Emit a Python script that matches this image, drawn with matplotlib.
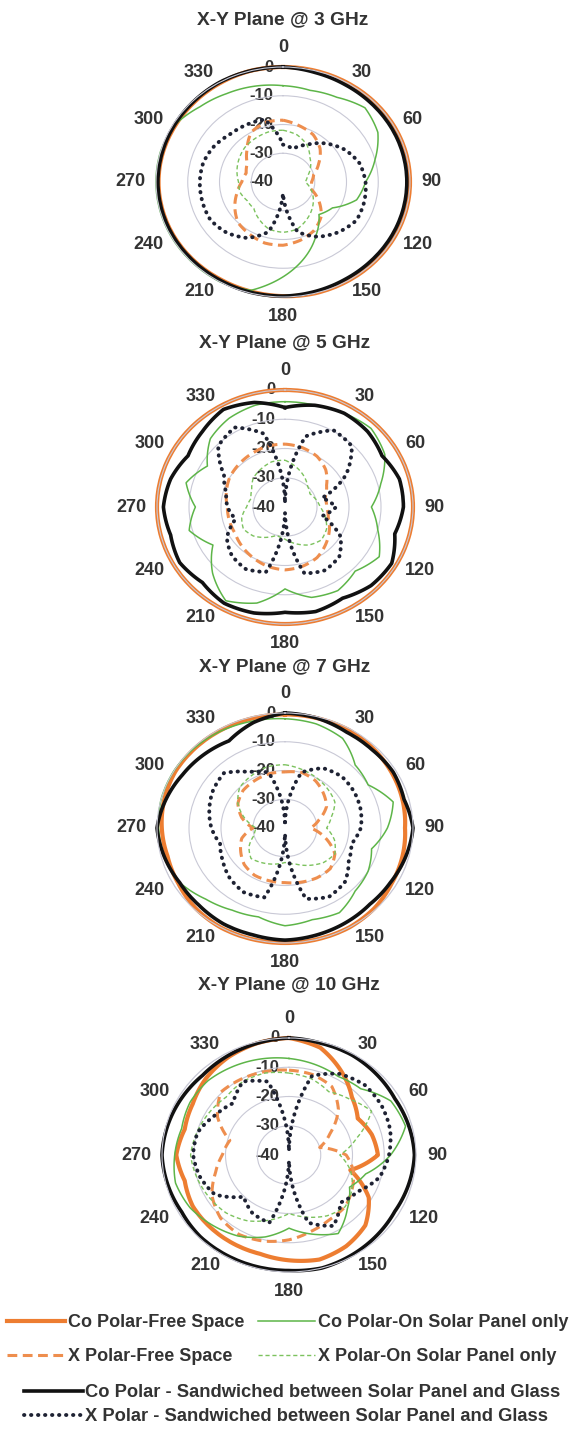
import numpy as np
import matplotlib
matplotlib.use("Agg")
import matplotlib.pyplot as plt

# angular positions of the sampled points (degrees, clockwise from top)
angles_deg = list(range(0, 360, 15))
tick_angles = list(range(0, 360, 30))
tick_labels = [str(a) for a in tick_angles]
ring_values = [0, -10, -20, -30, -40]

# ---- 3 GHz ----
co_free_3 = [0, 0, 0, 0, 0, 0, 0, 0, 0, 0, 0, 0, -0.3, -0.6, -0.8, -0.8, -0.8, -0.8, -0.8, -0.8, -0.8, -0.6, -0.3, 0]
x_free_3 = [-18.5, -19.8, -21, -23.5, -27, -30, -31, -31, -27, -23, -20.5, -19, -18, -18, -19, -20, -22.5, -25, -27, -28, -27, -24, -20, -18.5]
co_solar_3 = [-6.5, -7, -6, -3.5, -5.5, -10, -14, -16, -22, -24, -19, -13, -7, -1, 0, 0, 0, 0, 0, 0, -0.5, -3, -4.5, -5.5]
x_solar_3 = [-22, -23, -25, -28, -30, -32, -33, -31, -29, -27, -25, -23, -22.5, -23, -25, -27, -27, -26, -26, -25, -24, -23, -22.5, -22]
co_sand_3 = [0, -0.6, -0.9, -1, -1, -1, -1, -1, -1, -1, -0.9, -0.6, -0.3, -0.3, -0.5, -0.6, -0.6, -0.6, -0.6, -0.6, -0.5, -0.3, 0, 0]
x_sand_3 = [-27, -28, -25, -21, -17.5, -15, -14, -13.5, -13.3, -15.3, -18, -22, -36, -22, -17.5, -15, -13.6, -13.7, -13.8, -14, -15, -16.5, -17, -17.5]

# ---- 5 GHz ----
co_free_5 = [0, 0, 0, 0, 0, 0, 0, 0, 0, 0, 0, 0, 0, 0, 0, 0, 0, 0, 0, 0, 0, 0, 0, 0]
x_free_5 = [-18.5, -19, -20, -22, -25, -27, -27, -26, -24, -22, -20, -19, -18.5, -19, -20, -21, -22, -22, -22, -21, -20, -19.5, -19, -18.5]
co_solar_5 = [-4, -4, -3, -2, -4, -9, -13, -10, -6, -9, -7, -8, -12, -6, -3, -8, -14, -9, -12, -8, -12, -7, -5, -4]
x_solar_5 = [-24, -26, -28, -30, -31, -30, -29, -27, -25, -24, -25, -27, -29, -30, -28, -26, -25, -26, -28, -29, -28, -26, -25, -24]
co_sand_5 = [-6, -4, -3, -3.5, -5, -3, -3, -4.5, -1.5, -2, -4, -3, -4, -2.5, -2, -3.5, -2, -3, -2, -3, -5, -3.5, -1.5, -3]
x_sand_5 = [-38, -15, -9.7, -10.5, -18, -28, -24, -28, -20, -16, -15, -16.5, -38, -17, -15.5, -16.5, -19, -24, -22, -21, -18, -10.5, -8.6, -14]

# ---- 7 GHz ----
co_free_7 = [-0.5, -0.5, -0.5, -1, -1.5, -2, -2.5, -2, -1.5, -0.5, 0, 0, 0, 0, 0, -0.5, -1.5, -2, -1.5, -1, -0.5, -0.5, -0.5, -0.5]
x_free_7 = [-20.5, -20, -21, -23, -25, -29, -32, -27, -22, -20, -20, -20.5, -21, -21, -21, -22, -24, -26, -30, -26, -23, -21.5, -21, -20.5]
co_solar_7 = [-2, -2.5, -4, -9, -10, -5, -8, -12, -10, -9, -6, -7, -6, -8, -7, -5, -2, -1, -0.5, 0, 0, -0.3, -0.8, -1.5]
x_solar_7 = [-18, -19, -20, -21, -22, -25, -27, -24, -22, -23, -25, -27, -28, -27, -26, -25, -27, -30, -31, -27, -23, -20, -19, -18]
co_sand_7 = [0, -0.5, -1.5, -1.5, -1, -1.5, 0, -1, -2, -2.5, -2, -1.5, -1, -1.5, -1.5, -2, -2, -1, 0, -1.5, -3, -4, -5, -2]
x_sand_7 = [-38, -20, -16, -14.8, -15, -15.5, -16.3, -18.5, -17, -13.5, -12.4, -14.5, -38, -15, -14.2, -15.5, -17.5, -19, -17, -15.5, -14, -13, -17.5, -20]

# ---- 10 GHz ----
co_free_10 = [0, -2, -7, -12, -15, -13, -12, -20, -11, -6, -4, -3, -4, -5, -5, -5, -5, -6, -4.5, -6, -5, -3, -1.5, -0.5]
x_free_10 = [-11, -11.5, -13, -18, -25, -30, -22, -19, -17, -15, -14.5, -13, -11, -9.5, -8.6, -9.5, -12, -16, -19, -20.7, -14, -9.6, -10, -10.5]
co_solar_10 = [-7, -8, -9, -8, -3, -2, -8, -15, -18, -14, -9, -12, -15, -11, -8, -6, -4, -3, -4, -5, -4, -4, -5, -6]
x_solar_10 = [-12, -13, -15, -13, -10, -18, -24, -20, -17, -15, -16, -18, -20, -17, -14, -12, -11, -10, -9, -10, -11, -12, -11, -11]
co_sand_10 = [0, -0.5, -0.5, -1, -1.5, -1, -0.5, -1, -1.5, -1, -0.5, 0, -0.5, -0.5, -0.5, -0.5, -1, -0.5, 0, -0.5, -1, -1.5, -1, -0.5]
x_sand_10 = [-38, -12, -8, -6.2, -6.3, -7, -8.5, -10.5, -15, -17, -12, -16, -38, -16, -17, -19.8, -13, -11, -9.8, -10.2, -13, -15, -11, -14]

titles = ["X-Y Plane @ 3 GHz", "X-Y Plane @ 5 GHz", "X-Y Plane @ 7 GHz", "X-Y Plane @ 10 GHz"]
series = [
    [co_free_3, x_free_3, co_solar_3, x_solar_3, co_sand_3, x_sand_3],
    [co_free_5, x_free_5, co_solar_5, x_solar_5, co_sand_5, x_sand_5],
    [co_free_7, x_free_7, co_solar_7, x_solar_7, co_sand_7, x_sand_7],
    [co_free_10, x_free_10, co_solar_10, x_solar_10, co_sand_10, x_sand_10],
]
series_names = [
    "Co Polar-Free Space",
    "X Polar-Free Space",
    "Co Polar-On Solar Panel only",
    "X Polar-On Solar Panel only",
    "Co Polar - Sandwiched between Solar Panel and Glass",
    "X Polar - Sandwiched between Solar Panel and Glass",
]

ORANGE = "#ED7D31"
GREEN = "#5DB548"
styles = [
    dict(color=ORANGE, lw=3.0, ls="-"),
    dict(color="#EE8E4E", lw=2.2, ls=(0, (3.2, 1.8))),
    dict(color=GREEN, lw=1.1, ls="-"),
    dict(color="#7CC25E", lw=1.0, ls=(0, (3, 2))),
    dict(color="#111111", lw=2.6, ls="-"),
    dict(color="#1E2233", lw=2.8, ls=(0, (0.1, 1.7)), dash_capstyle="round"),
]

# panel geometry in pixels: centre x, centre y, horizontal radius, vertical radius, title y
panels = [
    (283, 182, 127, 115, 20),
    (285, 507, 128, 117, 343),
    (285, 828, 128, 115, 667),
    (289, 1155, 127, 117, 985),
]

plt.rcParams["font.family"] = ["Liberation Sans", "DejaVu Sans"]
W, H = 585, 1432
fig = plt.figure(figsize=(W / 100, H / 100), dpi=100)
TXT = "#333333"

theta = np.deg2rad(angles_deg + [360])
handles = []
for title, data, (cx, cy, rh, rv, ty) in zip(titles, series, panels):
    ax = fig.add_axes([(cx - rh) / W, 1 - (cy + rv) / H, 2 * rh / W, 2 * rv / H],
                      projection="polar")
    ax.set_aspect("auto")
    ax.set_theta_zero_location("N")
    ax.set_theta_direction(-1)
    ax.set_rlim(-40, 0)
    ax.set_rticks(ring_values)
    ax.set_yticklabels([])
    ax.set_xticks(np.deg2rad(tick_angles))
    ax.set_xticklabels([])
    ax.tick_params(length=0)
    ax.xaxis.grid(False)
    ax.yaxis.grid(True, color="#C9C9D6", lw=0.8)
    ax.spines["polar"].set_color("#C9C9D6")
    ax.spines["polar"].set_linewidth(0.8)
    ax.patch.set_alpha(0)

    handles = []
    for vals, name, st in zip(data, series_names, styles):
        st = dict(st)
        r = np.array(vals + [vals[0]])
        ln, = ax.plot(theta, r, color=st.pop("color"), lw=st.pop("lw"),
                      ls=st.pop("ls"), label=name, clip_on=False, **st)
        # follow the polar grid between samples instead of straight chords
        ln.get_path()._interpolation_steps = 20
        handles.append(ln)

    # angle labels around the rim
    for a, lab in zip(tick_angles, tick_labels):
        s, c = np.sin(np.deg2rad(a)), np.cos(np.deg2rad(a))
        ha = "left" if s > 0.1 else ("right" if s < -0.1 else "center")
        va = "bottom" if c > 0.95 else ("top" if c < -0.95 else "center")
        ax.annotate(lab, xy=(np.deg2rad(a), 0), xytext=(7.9 * s, 7.9 * c),
                    textcoords="offset points", ha=ha, va=va, fontsize=13,
                    fontweight="bold", color=TXT, annotation_clip=False)

    # dB labels along the vertical axis
    for v in ring_values:
        ax.annotate(str(v), xy=(0, v), xytext=(-7, 0), textcoords="offset points",
                    ha="right", va="center", fontsize=12, fontweight="bold",
                    color=TXT, zorder=1.5, annotation_clip=False)

    fig.text(cx / W, 1 - ty / H, title, ha="center", va="center",
             fontsize=13.8, fontweight="bold", color=TXT)

leg1 = fig.legend(handles=[handles[0], handles[1], handles[2], handles[3]],
                  loc="upper left", bbox_to_anchor=(7 / W, 1 - 1314 / H), ncol=2,
                  handlelength=3.2, handletextpad=0.16, columnspacing=0.75,
                  labelspacing=0.95, frameon=False, borderpad=0, borderaxespad=0,
                  prop=dict(weight="bold", size=13))
leg2 = fig.legend(handles=[handles[4], handles[5]], loc="upper center",
                  bbox_to_anchor=(292 / W, 1 - 1384 / H), ncol=1,
                  handlelength=3.2, handletextpad=0.1, labelspacing=0.4,
                  frameon=False, borderpad=0, borderaxespad=0,
                  prop=dict(weight="bold", size=13.2))
for leg in (leg1, leg2):
    for t in leg.get_texts():
        t.set_color(TXT)

fig.savefig("out.png", dpi=100, facecolor="white")
